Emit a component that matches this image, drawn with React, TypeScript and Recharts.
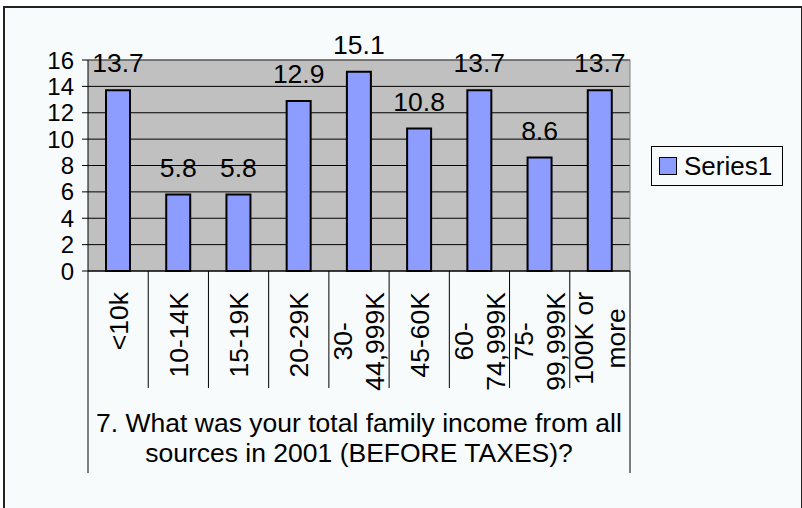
import React from 'react';
import { Bar, BarChart, CartesianGrid, LabelList, Legend, XAxis, YAxis } from 'recharts';

const categories = ['<10k', '10-14K', '15-19K', '20-29K', '30-\n44,999K', '45-60K', '60-\n74,999K', '75-\n99,999K', '100K or\nmore'];
const values = [13.7, 5.8, 5.8, 12.9, 15.1, 10.8, 13.7, 8.6, 13.7];
const yTicks = [0, 2, 4, 6, 8, 10, 12, 14, 16];
const seriesName = 'Series1';
const titleLines = ['7. What was your total family income from all', 'sources in 2001 (BEFORE TAXES)?'];

const data = categories.map((name, i) => ({ name, value: values[i] }));

const FONT = '"Liberation Sans", Arial, sans-serif';
const FS = 26.5;
const PLOT_LEFT = 88;
const PLOT_RIGHT = 630;
const PLOT_TOP = 60;
const PLOT_W = PLOT_RIGHT - PLOT_LEFT;
const BAND = PLOT_W / categories.length;

let ctx: CanvasRenderingContext2D | null = null;
function textWidth(s: string) {
    if (!ctx) {
        ctx = document.createElement('canvas').getContext('2d');
    }
    if (!ctx) return s.length * FS * 0.55;
    ctx.font = `${FS}px "Liberation Sans"`;
    return ctx.measureText(s).width;
}

function CategoryTick(props: any) {
    const { x, y, payload, index } = props;
    const lines = String(payload.value).split('\n');
    const lh = 32;
    const cap = 0.716 * FS;
    const maxW = Math.max(...lines.map(textWidth));
    const cy = y + 21 + maxW / 2;
    const left = x - BAND / 2;
    const last = index === categories.length - 1;
    return (
        <g>
            <line x1={left} x2={left} y1={y} y2={y + (index === 0 ? 202 : 117)} stroke="#000" />
            {last && <line x1={x + BAND / 2} x2={x + BAND / 2} y1={y} y2={y + 202} stroke="#000" />}
            {lines.map((ln, i) => {
                const bx = x + cap / 2 + (i - (lines.length - 1) / 2) * lh;
                return (
                    <text key={i} x={bx} y={cy} transform={`rotate(-90 ${bx} ${cy})`} textAnchor="middle"
                        fontSize={FS} fontFamily={FONT} fill="#000">{ln}</text>
                );
            })}
            {index === 0 && titleLines.map((t, i) => (
                <text key={'t' + i} x={left + PLOT_W / 2} y={y + 161 + i * 30} textAnchor="middle"
                    fontSize={FS} fontFamily={FONT} fill="#000">{t}</text>
            ))}
        </g>
    );
}

function LegendBox() {
    return (
        <div style={{ border: '1px solid #000', width: 130, height: 38, display: 'flex', alignItems: 'center', boxSizing: 'content-box', background: '#f8fbfb' }}>
            <span style={{ display: 'inline-block', width: 16, height: 16, border: '1px solid #000', background: '#8c9cff', marginLeft: 7, marginRight: 7 }} />
            <span style={{ fontFamily: FONT, fontSize: 26, color: '#000', lineHeight: 1 }}>{seriesName}</span>
        </div>
    );
}

export default function App() {
    return (
        <div style={{ position: 'absolute', left: 0, top: 0, width: 802, height: 508, background: '#fff' }}>
            <div style={{ position: 'absolute', left: 3, top: 6, width: 796, height: 502, borderTop: '2px solid #222', borderLeft: '2px solid #222', borderRight: '2px solid #222', background: '#f8fbfb' }} />
            <div style={{ position: 'absolute', left: 0, top: 0 }}>
                <BarChart width={802} height={508} data={data} margin={{ top: PLOT_TOP, right: 802 - PLOT_RIGHT, bottom: 35, left: 0 }}>
                    <CartesianGrid vertical={false} stroke="#000" fill="#c0c0c0" fillOpacity={1} />
                    <CartesianGrid horizontalPoints={[PLOT_TOP]} verticalPoints={[PLOT_RIGHT]} stroke="#808080" />
                    <XAxis dataKey="name" interval={0} tickLine={false} tickSize={0} tickMargin={0} height={202}
                        axisLine={{ stroke: '#000' }} tick={<CategoryTick />} />
                    <YAxis type="number" domain={[0, 16]} ticks={yTicks} interval={0} width={PLOT_LEFT}
                        tickSize={6} tickMargin={8} axisLine={{ stroke: '#000' }} tickLine={{ stroke: '#000' }}
                        tick={{ fontSize: 24, fontFamily: FONT, fill: '#000' }} />
                    <Legend layout="horizontal" verticalAlign="middle" align="center" content={<LegendBox />}
                        wrapperStyle={{ left: 651, top: 146, width: 132, height: 40 }} />
                    <Bar dataKey="value" name={seriesName} fill="#8c9cff" stroke="#000" strokeWidth={2} barSize={24} isAnimationActive={false}>
                        <LabelList dataKey="value" position="top" offset={18} fontSize={FS} fontFamily={FONT} fill="#000" />
                    </Bar>
                </BarChart>
            </div>
        </div>
    );
}
